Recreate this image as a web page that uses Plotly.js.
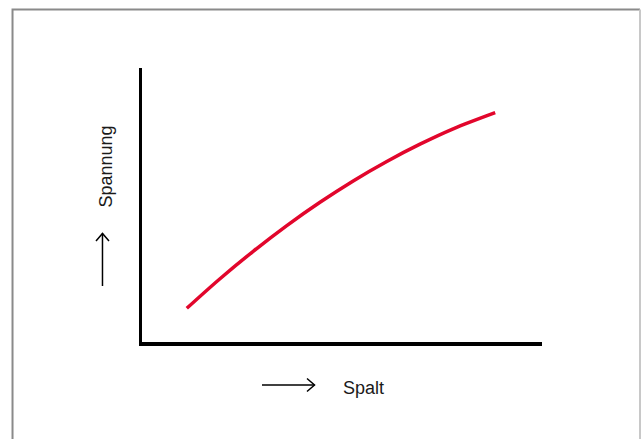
<!DOCTYPE html>
<html>
<head>
<meta charset="utf-8">
<script src="https://cdn.plot.ly/plotly-3.0.1.min.js"></script>
<style>html,body{margin:0;padding:0;background:#fff;}#chart{width:641px;height:439px;}</style>
</head>
<body>
<div id="chart"></div>
<script>
// Data (arbitrary units, no ticks shown)
const spalt    = [1.12, 1.95, 2.78, 3.62, 4.45, 5.28, 6.12, 6.95, 7.78, 8.83];
const spannung = [1.23, 2.31, 3.31, 4.25, 5.10, 5.88, 6.59, 7.22, 7.78, 8.37];
const xLabel = "Spalt";
const yLabel = "Spannung";

const W = 641, H = 439;
const M = {l: 142, r: 99, t: 68, b: 97};
const pw = W - M.l - M.r, ph = H - M.t - M.b;
const px = v => (v - M.l) / pw;
const py = v => (H - M.b - v) / ph;
const P = (x, y) => px(x).toFixed(4) + ',' + py(y).toFixed(4);

const shapes = [
  // frame
  {type: 'path', xref: 'paper', yref: 'paper', path: 'M' + P(12.5, 445) + ' L' + P(12.5, 9.5) + ' L' + P(640, 9.5),
   line: {color: '#8a8a8a', width: 2}},
  {type: 'path', xref: 'paper', yref: 'paper', path: 'M' + P(640, 9.5) + ' L' + P(640, 445),
   line: {color: '#c8c8c8', width: 2}},
  // horizontal arrow
  {type: 'path', xref: 'paper', yref: 'paper', path: 'M' + P(262, 385) + ' L' + P(314.5, 385),
   line: {color: '#000', width: 1.5}},
  {type: 'path', xref: 'paper', yref: 'paper', path: 'M' + P(307, 378.5) + ' L' + P(314.5, 385) + ' L' + P(307, 391.5),
   line: {color: '#000', width: 1.5}},
  // vertical arrow
  {type: 'path', xref: 'paper', yref: 'paper', path: 'M' + P(102.5, 286) + ' L' + P(102.5, 233.5),
   line: {color: '#000', width: 1.5}},
  {type: 'path', xref: 'paper', yref: 'paper', path: 'M' + P(96, 241) + ' L' + P(102.5, 233.5) + ' L' + P(109, 241),
   line: {color: '#000', width: 1.5}}
];

const annotations = [
  {text: xLabel, xref: 'paper', yref: 'paper', x: px(363), y: py(388), xanchor: 'center', yanchor: 'middle',
   showarrow: false, font: {family: 'Liberation Sans, Arial, sans-serif', size: 18, color: '#1a1a1a'}},
  {text: yLabel, xref: 'paper', yref: 'paper', x: px(105.5), y: py(167), xanchor: 'center', yanchor: 'middle',
   textangle: -90, showarrow: false, font: {family: 'Liberation Sans, Arial, sans-serif', size: 18, color: '#1a1a1a'}}
];

const axisCommon = {
  showline: true, linecolor: '#000', linewidth: 3.5,
  showgrid: false, zeroline: false, showticklabels: false, ticks: '',
  fixedrange: true
};

Plotly.newPlot('chart', [{
  x: spalt, y: spannung, type: 'scatter', mode: 'lines',
  line: {color: '#e2062c', width: 3.5, shape: 'spline', smoothing: 1},
  hoverinfo: 'skip'
}], {
  width: W, height: H,
  margin: M,
  paper_bgcolor: '#fff', plot_bgcolor: '#fff',
  showlegend: false,
  xaxis: Object.assign({range: [0, 10]}, axisCommon),
  yaxis: Object.assign({range: [0, 10]}, axisCommon),
  shapes: shapes,
  annotations: annotations
}, {displayModeBar: false, staticPlot: true});
</script>
</body>
</html>
